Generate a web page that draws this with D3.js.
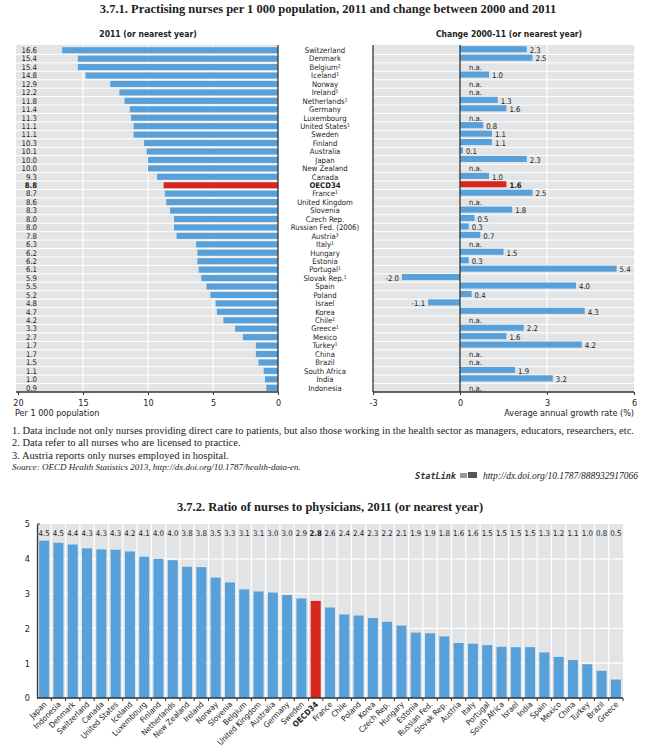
<!DOCTYPE html>
<html><head><meta charset="utf-8">
<script src="https://cdn.jsdelivr.net/npm/d3@7"></script>
<style>
body{margin:0;background:#fff;}
svg{display:block;}
.nar{font-family:"DejaVu Sans Condensed","Liberation Sans Narrow",sans-serif;font-stretch:condensed;}
.ser{font-family:"Liberation Serif","DejaVu Serif",serif;}
</style></head>
<body>
<svg id="c" width="646" height="753"></svg>
<script>
// ---------- Data: chart 3.7.1 ----------
const countries1 = ["Switzerland","Denmark","Belgium²","Iceland¹","Norway","Ireland¹","Netherlands¹","Germany","Luxembourg","United States¹","Sweden","Finland","Australia","Japan","New Zealand","Canada","OECD34","France¹","United Kingdom","Slovenia","Czech Rep.","Russian Fed. (2006)","Austria³","Italy¹","Hungary","Estonia","Portugal¹","Slovak Rep.¹","Spain","Poland","Israel","Korea","Chile²","Greece¹","Mexico","Turkey¹","China","Brazil","South Africa","India","Indonesia"];
const nurses2011 = [16.6,15.4,15.4,14.8,12.9,12.2,11.8,11.4,11.3,11.1,11.1,10.3,10.1,10.0,10.0,9.3,8.8,8.7,8.6,8.3,8.0,8.0,7.8,6.3,6.2,6.2,6.1,5.9,5.5,5.2,4.8,4.7,4.2,3.3,2.7,1.7,1.7,1.5,1.1,1.0,0.9];
const change2000_11 = [2.3,2.5,null,1.0,null,null,1.3,1.6,null,0.8,1.1,1.1,0.1,2.3,null,1.0,1.6,2.5,null,1.8,0.5,0.3,0.7,null,1.5,0.3,5.4,-2.0,4.0,0.4,-1.1,4.3,null,2.2,1.6,4.2,null,null,1.9,3.2,null];
const leftTicks = [20,15,10,5,0];
const rightTicks = [-3,0,3,6];
// ---------- Data: chart 3.7.2 ----------
const countries2 = ["Japan","Indonesia","Denmark","Switzerland","Canada","United States","Iceland","Luxembourg","Finland","Netherlands","New Zealand","Ireland","Norway","Slovenia","Belgium","United Kingdom","Australia","Germany","Sweden","OECD34","France","Chile","Poland","Korea","Czech Rep.","Hungary","Estonia","Russian Fed.","Slovak Rep.","Austria","Italy","Portugal","South Africa","Israel","India","Spain","Mexico","China","Turkey","Brazil","Greece"];
const ratio = [4.52,4.46,4.41,4.30,4.27,4.26,4.21,4.06,4.0,3.96,3.77,3.76,3.46,3.32,3.12,3.06,3.03,2.96,2.86,2.79,2.6,2.40,2.37,2.30,2.19,2.08,1.88,1.86,1.77,1.58,1.56,1.52,1.47,1.46,1.46,1.31,1.18,1.09,0.97,0.78,0.53];
const ratioTicks = [0,1,2,3,4,5];

const BLUE = "#57a0d9", RED = "#d8261d", GREY = "#e3e4e6", INK = "#222";
const svg = d3.select("#c");
const fmt = v => v.toFixed(1);
const ifmt = v => String(v);

// ---------- Titles ----------
svg.append("text").attr("class","ser").attr("x",328).attr("y",13).attr("text-anchor","middle")
  .attr("font-size",12.5).attr("font-weight","bold").attr("fill",INK)
  .text("3.7.1.  Practising nurses per 1 000 population, 2011 and change between 2000 and 2011");
svg.append("text").attr("class","nar").attr("x",148).attr("y",37).attr("text-anchor","middle")
  .attr("font-size",8.5).attr("font-weight","bold").attr("fill",INK).text("2011 (or nearest year)");
svg.append("text").attr("class","nar").attr("x",509).attr("y",37).attr("text-anchor","middle")
  .attr("font-size",8.5).attr("font-weight","bold").attr("fill",INK).text("Change 2000-11 (or nearest year)");

// ---------- Shared row scale ----------
const top1 = 45, bot1 = 392;
const y1 = d3.scaleBand().domain(countries1).range([top1+1, bot1]).paddingInner(0.28).paddingOuter(0.14);
const step = y1.step();
const FS = 7.7;

// ---------- Left panel ----------
const xL = d3.scaleLinear().domain([20,0]).range([18,278]);
const gL = svg.append("g");
gL.append("rect").attr("x",16).attr("y",top1).attr("width",278-16).attr("height",bot1-top1).attr("fill",GREY);
gL.selectAll("line.vg").data([15,10,5]).join("line").attr("class","vg")
  .attr("x1",d=>xL(d)).attr("x2",d=>xL(d)).attr("y1",top1).attr("y2",bot1).attr("stroke","#fff").attr("stroke-width",1.2);
gL.selectAll("line.hg").data(countries1.slice(1)).join("line").attr("class","hg")
  .attr("x1",16).attr("x2",278).attr("y1",d=>y1(d)-step*0.14).attr("y2",d=>y1(d)-step*0.14).attr("stroke","#fff").attr("stroke-width",1);
gL.selectAll("rect.bar").data(countries1).join("rect").attr("class","bar")
  .attr("x",(d,i)=>xL(nurses2011[i])).attr("width",(d,i)=>xL(0)-xL(nurses2011[i]))
  .attr("y",d=>y1(d)).attr("height",y1.bandwidth())
  .attr("fill",d=>d==="OECD34"?RED:BLUE);
gL.selectAll("text.val").data(countries1).join("text").attr("class","val nar")
  .attr("x",37).attr("y",d=>y1(d)+y1.bandwidth()/2).attr("dy","0.36em").attr("text-anchor","end")
  .attr("font-size",FS).attr("fill",INK).attr("font-weight",d=>d==="OECD34"?"bold":null)
  .text((d,i)=>fmt(nurses2011[i]));
const axL = gL.append("g").attr("transform",`translate(0,${bot1})`)
  .call(d3.axisBottom(xL).tickValues(leftTicks).tickFormat(ifmt).tickSize(3).tickSizeOuter(0));
axL.select(".domain").remove();
axL.selectAll("line").attr("stroke","#333");
axL.selectAll("text").attr("class","nar").attr("font-size",9).attr("fill",INK).attr("dy","0.9em");
axL.attr("font-family",null);
gL.append("line").attr("x1",16).attr("x2",278).attr("y1",bot1).attr("y2",bot1).attr("stroke","#333").attr("stroke-width",1.3);
gL.append("line").attr("x1",278).attr("x2",278).attr("y1",top1).attr("y2",bot1).attr("stroke","#333").attr("stroke-width",1.3);
svg.append("text").attr("class","nar").attr("x",15).attr("y",416).attr("font-size",9).attr("fill",INK).text("Per 1 000 population");

// ---------- Country labels ----------
svg.selectAll("text.cty").data(countries1).join("text").attr("class","cty nar")
  .attr("x",325).attr("y",d=>y1(d)+y1.bandwidth()/2).attr("dy","0.36em").attr("text-anchor","middle")
  .attr("font-size",FS).attr("fill",INK).attr("font-weight",d=>d==="OECD34"?"bold":null).text(d=>d);

// ---------- Right panel ----------
const xR = d3.scaleLinear().domain([-3,6]).range([373,634]);
const gR = svg.append("g");
gR.append("rect").attr("x",373).attr("y",top1).attr("width",634-373).attr("height",bot1-top1).attr("fill",GREY);
gR.selectAll("line.vg").data([3]).join("line").attr("class","vg")
  .attr("x1",d=>xR(d)).attr("x2",d=>xR(d)).attr("y1",top1).attr("y2",bot1).attr("stroke","#fff").attr("stroke-width",1.2);
gR.selectAll("line.hg").data(countries1.slice(1)).join("line").attr("class","hg")
  .attr("x1",373).attr("x2",634).attr("y1",d=>y1(d)-step*0.14).attr("y2",d=>y1(d)-step*0.14).attr("stroke","#fff").attr("stroke-width",1);
const rightData = countries1.map((c,i)=>({c, v:change2000_11[i]}));
gR.selectAll("rect.bar").data(rightData.filter(d=>d.v!==null)).join("rect").attr("class","bar")
  .attr("x",d=>xR(Math.min(0,d.v))).attr("width",d=>Math.abs(xR(d.v)-xR(0)))
  .attr("y",d=>y1(d.c)-1).attr("height",y1.bandwidth())
  .attr("fill",d=>d.c==="OECD34"?RED:BLUE);
gR.selectAll("text.val").data(rightData).join("text").attr("class","val nar")
  .attr("x",d=>d.v===null?469:(d.v<0?xR(d.v)-3:xR(d.v)+3))
  .attr("text-anchor",d=>d.v!==null&&d.v<0?"end":"start")
  .attr("y",d=>y1(d.c)+y1.bandwidth()/2).attr("dy","0.36em")
  .attr("font-size",FS).attr("fill",INK).attr("font-weight",d=>d.c==="OECD34"?"bold":null)
  .text(d=>d.v===null?"n.a.":fmt(d.v));
const axR = gR.append("g").attr("transform",`translate(0,${bot1})`)
  .call(d3.axisBottom(xR).tickValues(rightTicks).tickFormat(ifmt).tickSize(3).tickSizeOuter(0));
axR.select(".domain").remove();
axR.selectAll("line").attr("stroke","#333");
axR.selectAll("text").attr("class","nar").attr("font-size",9).attr("fill",INK).attr("dy","0.9em");
axR.attr("font-family",null);
gR.append("line").attr("x1",373).attr("x2",634).attr("y1",bot1).attr("y2",bot1).attr("stroke","#333").attr("stroke-width",1.3);
gR.append("line").attr("x1",373).attr("x2",373).attr("y1",top1).attr("y2",bot1).attr("stroke","#333").attr("stroke-width",1.3);
gR.append("line").attr("x1",xR(0)).attr("x2",xR(0)).attr("y1",top1).attr("y2",bot1).attr("stroke","#333").attr("stroke-width",1.3);
svg.append("text").attr("class","nar").attr("x",634).attr("y",416).attr("text-anchor","end").attr("font-size",9).attr("fill",INK).text("Average annual growth rate (%)");

// ---------- Notes ----------
const notes = [
  "1.  Data include not only nurses providing direct care to patients, but also those working in the health sector as managers, educators, researchers, etc.",
  "2.  Data refer to all nurses who are licensed to practice.",
  "3.  Austria reports only nurses employed in hospital."
];
svg.selectAll("text.note").data(notes).join("text").attr("class","note ser")
  .attr("x",12).attr("y",(d,i)=>434+i*12.3).attr("font-size",10.5).attr("fill",INK).text(d=>d);
svg.append("text").attr("class","ser").attr("x",12).attr("y",470).attr("font-size",9).attr("fill",INK).attr("font-style","italic")
  .text("Source:  OECD Health Statistics 2013, http://dx.doi.org/10.1787/health-data-en.");
// StatLink
const sl = svg.append("g");
sl.append("text").attr("x",638).attr("y",479).attr("text-anchor","end").attr("class","ser").attr("font-size",9.5).attr("font-style","italic").attr("fill",INK)
  .text("http://dx.doi.org/10.1787/888932917066");
sl.append("text").attr("x",456).attr("y",479).attr("text-anchor","end").attr("font-family","DejaVu Sans Mono, monospace").attr("font-size",8.5).attr("font-weight","bold").attr("font-style","italic").attr("fill","#333").text("StatLink");
sl.append("rect").attr("x",460).attr("y",473).attr("width",7).attr("height",5).attr("fill","#999");
sl.append("rect").attr("x",468).attr("y",472).attr("width",9).attr("height",6).attr("fill","#555");

// ---------- Chart 3.7.2 ----------
svg.append("text").attr("class","ser").attr("x",330).attr("y",511).attr("text-anchor","middle")
  .attr("font-size",12.5).attr("font-weight","bold").attr("fill",INK)
  .text("3.7.2.  Ratio of nurses to physicians, 2011 (or nearest year)");
const left2 = 37, right2 = 623, top2 = 524, bot2 = 698;
const x2 = d3.scaleBand().domain(countries2).range([left2,right2]).paddingInner(0.3).paddingOuter(0.15);
const y2 = d3.scaleLinear().domain([0,5]).range([bot2,top2]);
const g2 = svg.append("g");
g2.append("rect").attr("x",left2).attr("y",top2).attr("width",right2-left2).attr("height",bot2-top2).attr("fill",GREY);
g2.selectAll("line.hg").data([1,2,3,4]).join("line").attr("class","hg")
  .attr("x1",left2).attr("x2",right2).attr("y1",d=>y2(d)).attr("y2",d=>y2(d)).attr("stroke","#fff").attr("stroke-width",1.2);
const s2 = x2.step();
g2.selectAll("line.vg").data(countries2.slice(1)).join("line").attr("class","vg")
  .attr("x1",d=>x2(d)-s2*0.15).attr("x2",d=>x2(d)-s2*0.15).attr("y1",top2).attr("y2",bot2).attr("stroke","#fff").attr("stroke-width",1.2);
g2.selectAll("rect.bar").data(countries2).join("rect").attr("class","bar")
  .attr("x",d=>x2(d)).attr("width",x2.bandwidth())
  .attr("y",(d,i)=>y2(ratio[i])).attr("height",(d,i)=>bot2-y2(ratio[i]))
  .attr("fill",d=>d==="OECD34"?RED:BLUE);
g2.selectAll("text.val").data(countries2).join("text").attr("class","val nar")
  .attr("x",d=>x2(d)+x2.bandwidth()/2).attr("y",536).attr("text-anchor","middle")
  .attr("font-size",7.8).attr("fill",INK).attr("font-weight",d=>d==="OECD34"?"bold":null)
  .text((d,i)=>fmt(ratio[i]));
const ay2 = g2.append("g").attr("transform",`translate(${left2},0)`)
  .call(d3.axisLeft(y2).tickValues(ratioTicks).tickFormat(ifmt).tickSize(0).tickPadding(7));
ay2.select(".domain").attr("stroke","#333").attr("stroke-width",1.3);
ay2.selectAll("text").attr("class","nar").attr("font-size",9).attr("fill",INK);
ay2.attr("font-family",null);
g2.append("line").attr("x1",left2).attr("x2",left2+3).attr("y1",top2).attr("y2",top2).attr("stroke","#333");
g2.append("line").attr("x1",left2).attr("x2",right2).attr("y1",bot2).attr("y2",bot2).attr("stroke","#333").attr("stroke-width",1.6);
g2.selectAll("line.tk").data(countries2.slice(1).concat(["__end"])).join("line").attr("class","tk")
  .attr("x1",d=>d==="__end"?right2:x2(d)-s2*0.15).attr("x2",d=>d==="__end"?right2:x2(d)-s2*0.15)
  .attr("y1",bot2).attr("y2",bot2+3).attr("stroke","#333");
g2.selectAll("text.xl").data(countries2).join("text").attr("class","xl nar")
  .attr("transform",d=>`translate(${x2(d)+x2.bandwidth()/2+1},${bot2+5}) rotate(-45)`)
  .attr("text-anchor","end").attr("dy","0.35em")
  .attr("font-size",8).attr("fill",INK).attr("font-weight",d=>d==="OECD34"?"bold":null).text(d=>d);
</script>
</body></html>
